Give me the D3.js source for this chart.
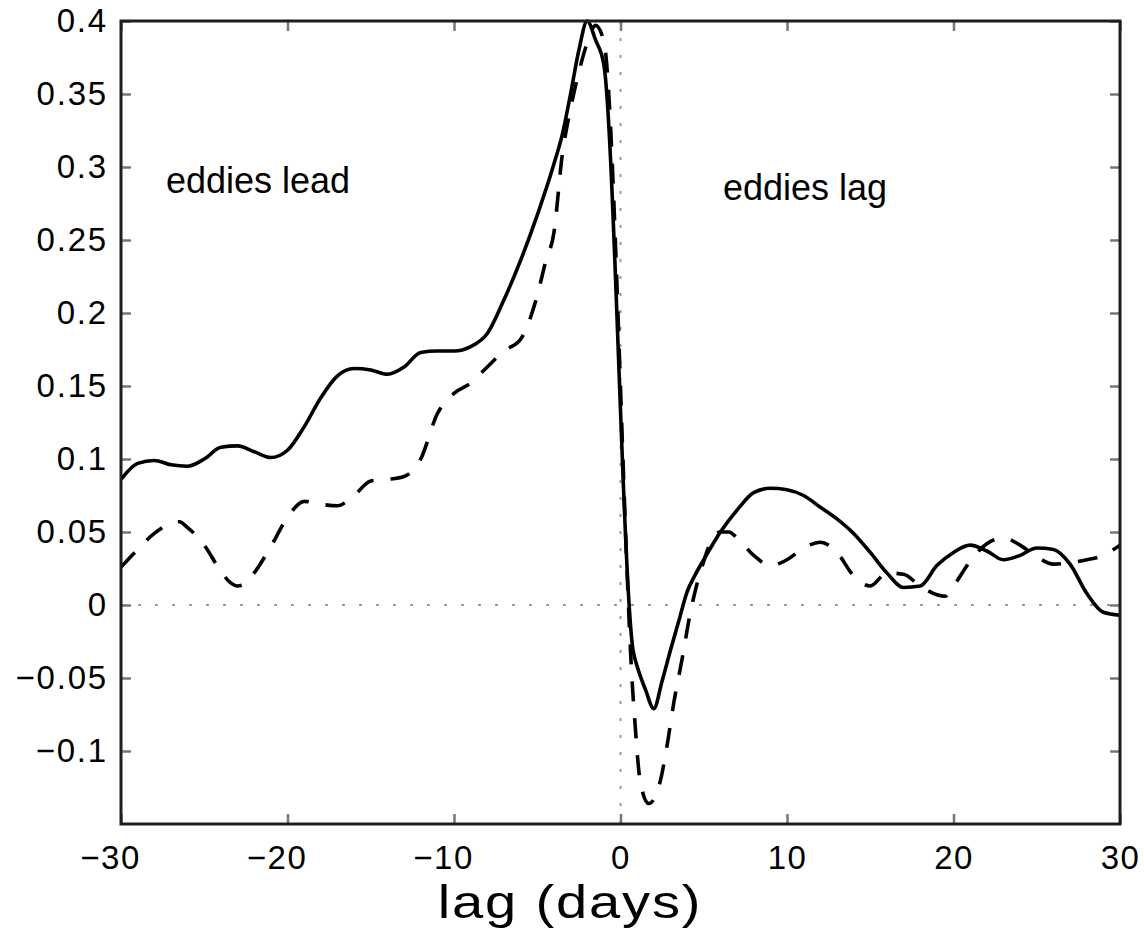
<!DOCTYPE html>
<html>
<head>
<meta charset="utf-8">
<script src="https://cdn.jsdelivr.net/npm/d3@7"></script>
<style>
  html, body { margin: 0; padding: 0; background: #fff; }
  svg { display: block; }
  text { font-family: "Liberation Sans", Arial, Helvetica, sans-serif; fill: #000; }
</style>
</head>
<body>
<svg id="chart" width="1144" height="931"></svg>
<script>
// ---- data ----
const xTicks = [-30, -20, -10, 0, 10, 20, 30];
const yTicks = [-0.1, -0.05, 0, 0.05, 0.1, 0.15, 0.2, 0.25, 0.3, 0.35, 0.4];
const xDomain = [-30, 30];
const yDomain = [-0.15, 0.4];

const solidLag = [-30,-29,-28,-27,-26,-25,-24,-23,-22,-21,-20,-19,-18,-17,-16,-15,-14,-13,-12,-11,-10,-9,-8,-7,-6,-5,-4,-3.5,-3,-2.5,-2,-1.5,-1,0.77,1,1.5,2,2.5,3,3.5,4,4.5,5,6,7,8,9,10,11,12,13,14,15,16,17,18,19,20,21,22,23,24,25,26,27,28,29,30];
const solidVal = [0.086,0.097,0.099,0.096,0.095,0.100,0.108,0.109,0.105,0.101,0.106,0.122,0.142,0.157,0.162,0.161,0.158,0.163,0.173,0.174,0.174,0.177,0.186,0.209,0.236,0.267,0.302,0.322,0.350,0.380,0.400,0.387,0.370,-0.032,-0.042,-0.058,-0.071,-0.052,-0.031,-0.011,0.009,0.021,0.031,0.050,0.065,0.077,0.080,0.079,0.075,0.067,0.059,0.049,0.036,0.022,0.012,0.013,0.027,0.036,0.041,0.037,0.031,0.034,0.039,0.038,0.028,0.008,-0.005,-0.007];

const dashLag = [-30,-29,-28,-27,-26.5,-26,-25,-24,-23.5,-23,-22.5,-22,-21,-20,-19,-18,-17,-16,-15,-14,-13,-12,-11,-10,-9,-8,-7,-6,-5,-4.5,-4,-3.5,-3,-2.5,-2,-1.5,-1,0.8,1.2,1.7,2.4,2.8,3.2,3.7,4.2,5,5.5,6,6.5,7,8,9,10,11,12,13,14,15,16,17,18,19,19.5,20,21,22,23,24,25,26,27,28,29,30];
const dashVal = [0.026,0.038,0.049,0.056,0.057,0.053,0.041,0.023,0.016,0.013,0.015,0.022,0.040,0.060,0.071,0.069,0.068,0.075,0.085,0.086,0.088,0.100,0.131,0.145,0.152,0.163,0.174,0.182,0.212,0.235,0.255,0.308,0.340,0.365,0.385,0.397,0.386,-0.070,-0.122,-0.136,-0.120,-0.096,-0.067,-0.037,-0.005,0.030,0.045,0.050,0.050,0.046,0.034,0.027,0.031,0.039,0.043,0.036,0.020,0.013,0.022,0.021,0.013,0.007,0.006,0.013,0.030,0.042,0.046,0.041,0.033,0.028,0.029,0.031,0.034,0.041];

const annotations = [
  { text: "eddies lead", lag: -27.3, value: 0.2825 },
  { text: "eddies lag", lag: 6.15, value: 0.2777 }
];
const xLabel = "lag (days)";

// ---- layout ----
const W = 1144, H = 931;
const margin = { left: 121, top: 21, right: 24, bottom: 107 };
const iw = W - margin.left - margin.right;
const ih = H - margin.top - margin.bottom;

const svg = d3.select("#chart");
const g = svg.append("g").attr("transform", `translate(${margin.left},${margin.top})`);

const x = d3.scaleLinear().domain(xDomain).range([0, iw]);
const y = d3.scaleLinear().domain(yDomain).range([ih, 0]);

const fmt = d => {
  const s = d3.format("")(+d.toFixed(2));
  return s.replace("-", "\u2212");
};

// zero reference lines (dotted)
g.append("line").attr("x1", 0).attr("x2", iw).attr("y1", y(0)).attr("y2", y(0))
  .attr("stroke", "#9a9a9a").attr("stroke-width", 2).attr("stroke-dasharray", "3,14");
g.append("line").attr("x1", x(0)).attr("x2", x(0)).attr("y1", 0).attr("y2", ih)
  .attr("stroke", "#9a9a9a").attr("stroke-width", 2).attr("stroke-dasharray", "3,14");

// clip
svg.append("defs").append("clipPath").attr("id", "clip")
  .append("rect").attr("x", 0).attr("y", -2).attr("width", iw).attr("height", ih + 4);

const line = d3.line().x(d => x(d[0])).y(d => y(d[1])).curve(d3.curveMonotoneX);
const solid = solidLag.map((l, i) => [l, solidVal[i]]);
const dashed = dashLag.map((l, i) => [l, dashVal[i]]);

const plot = g.append("g").attr("clip-path", "url(#clip)");
plot.append("path").datum(dashed).attr("d", line)
  .attr("fill", "none").attr("stroke", "#000").attr("stroke-width", 3.6)
  .attr("stroke-dasharray", "20,17").attr("stroke-linejoin", "round");
plot.append("path").datum(solid).attr("d", line)
  .attr("fill", "none").attr("stroke", "#000").attr("stroke-width", 3.6)
  .attr("stroke-linejoin", "round");

// axes with inward ticks
const tickLen = 10;
const styleAxis = (sel) => {
  sel.select(".domain").remove();
  sel.selectAll(".tick line").attr("stroke", "#777").attr("stroke-width", 2.5);
  sel.selectAll(".tick text").style("font-size", "33px").style("letter-spacing", "1.5px").attr("fill", "#000");
};

g.append("g").attr("transform", `translate(0,${ih})`)
  .call(d3.axisBottom(x).tickValues(xTicks).tickSize(-tickLen).tickPadding(22).tickFormat(fmt))
  .call(styleAxis)
  .call(s => s.selectAll(".tick text").attr("dy", "0.71em").attr("dx", d => d < 0 ? -11 : 0));

g.append("g")
  .call(d3.axisTop(x).tickValues(xTicks).tickSize(-tickLen).tickFormat(""))
  .call(styleAxis);

g.append("g")
  .call(d3.axisLeft(y).tickValues(yTicks).tickSize(-tickLen).tickPadding(13).tickFormat(fmt))
  .call(styleAxis)
  .call(s => s.selectAll(".tick text").style("letter-spacing", "1.8px"));

g.append("g").attr("transform", `translate(${iw},0)`)
  .call(d3.axisRight(y).tickValues(yTicks).tickSize(-tickLen).tickFormat(""))
  .call(styleAxis);

// frame
g.append("rect").attr("x", 0).attr("y", 0).attr("width", iw).attr("height", ih)
  .attr("fill", "none").attr("stroke", "#1e1e1e").attr("stroke-width", 3);

// annotations
g.selectAll("text.ann").data(annotations).enter().append("text")
  .attr("class", "ann")
  .attr("x", d => x(d.lag)).attr("y", d => y(d.value))
  .style("font-size", "36px")
  .text(d => d.text);

// x label (slightly stretched horizontally, like the reference)
svg.append("text")
  .attr("transform", "translate(570,918) scale(1.22,1)")
  .attr("text-anchor", "middle")
  .style("font-size", "46px")
  .style("letter-spacing", "1.5px")
  .text(xLabel);
</script>
</body>
</html>
